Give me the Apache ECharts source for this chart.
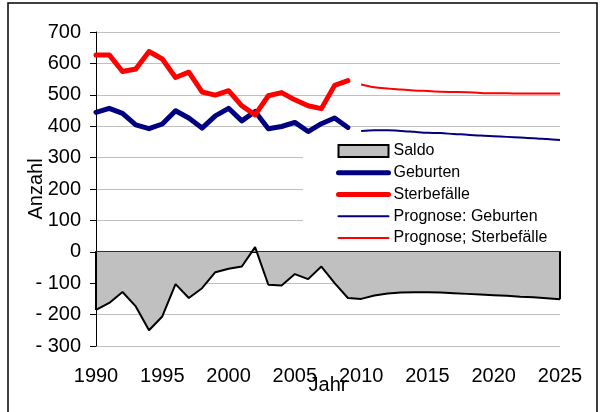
<!DOCTYPE html>
<html>
<head>
<meta charset="utf-8">
<script src="https://cdn.jsdelivr.net/npm/echarts@6/dist/echarts.min.js"></script>
<style>
  html, body { margin: 0; padding: 0; background: #fff; }
  #chart { width: 600px; height: 412px; }
</style>
</head>
<body>
<div id="chart"></div>
<script>
// Jahre (Kategorien)
var years = ['1990', '1991', '1992', '1993', '1994', '1995', '1996', '1997', '1998', '1999',
  '2000', '2001', '2002', '2003', '2004', '2005', '2006', '2007', '2008', '2009',
  '2010', '2011', '2012', '2013', '2014', '2015', '2016', '2017', '2018', '2019',
  '2020', '2021', '2022', '2023', '2024', '2025']

// Ist-Werte 1990-2009
var geburten = [444, 457, 441, 404, 392, 407, 449, 426, 394, 433, 457, 417, 447, 392, 399, 412, 383, 408, 426, 396]
var sterbefaelle = [627, 627, 574, 582, 638, 614, 555, 572, 509, 499, 513, 465, 436, 497, 507, 484, 465, 456, 530, 545]

// Prognose 2010-2025
var progGeburten = [385, 387, 387, 385, 382, 379, 378, 375, 373, 370, 368, 366, 364, 362, 359, 356]
var progSterbefaelle = [533, 524, 520, 517, 514, 512, 510, 509, 508, 506, 505, 505, 504, 504, 504, 504]

// Saldo 1990-2025
var saldo = [-185, -163, -128, -174, -250, -206, -103, -147, -116, -65, -54, -47, 15, -105, -107, -71, -87, -47, -100, -147,
  -150, -139, -133, -130, -129, -129, -130, -132, -134, -136, -138, -140, -143, -145, -148, -151]

var yTicks = { min: -300, max: 700, step: 100 }

var font = "'Liberation Sans', Arial, sans-serif"

// Ist-Reihen hinten, Prognose vorne mit null auffuellen
function padEnd(arr) {
  var out = arr.slice()
  while (out.length < years.length) out.push(null)
  return out
}
function padStart(arr) {
  var out = []
  for (var i = 0; i < years.length - arr.length; i++) out.push(null)
  return out.concat(arr)
}

var first = years[0]
var last = years[years.length - 1]

// Legendeneintrag fuer Linien: nur Strich, kein Punkt
function lineItem(name, color, width) {
  return { name: name, itemStyle: { opacity: 0 }, lineStyle: { color: color, width: width, cap: 'round' } }
}

var option = {
  animation: false,
  backgroundColor: '#fff',
  textStyle: { fontFamily: font },
  graphic: [{
    type: 'rect',
    shape: { x: 8, y: 3, width: 589, height: 430 },
    style: { fill: 'none', stroke: '#000', lineWidth: 1.5 },
    z: -1
  }],
  grid: { left: 96, right: 40, top: 32, bottom: 66 },
  legend: {
    orient: 'vertical',
    left: 303,
    top: 143,
    padding: [0, 25, 4, 33],
    backgroundColor: '#fff',
    itemWidth: 50,
    itemHeight: 12,
    itemGap: 5.75,
    textStyle: { fontFamily: font, fontSize: 16, color: '#000' },
    data: [
      { name: 'Saldo', icon: 'rect', itemStyle: { color: '#c0c0c0', borderColor: '#000', borderWidth: 2 } },
      lineItem('Geburten', '#000080', 5),
      lineItem('Sterbefälle', '#ff0000', 5),
      lineItem('Prognose: Geburten', '#000080', 2),
      lineItem('Prognose; Sterbefälle', '#ff0000', 2)
    ]
  },
  xAxis: [{
    type: 'category',
    data: years,
    boundaryGap: false,
    position: 'bottom',
    axisLine: { onZero: true, lineStyle: { color: '#000', width: 2 } },
    axisTick: { show: true, interval: 4, length: 6, lineStyle: { color: '#000', width: 1 } },
    axisLabel: { show: false },
    splitLine: { show: false }
  }, {
    type: 'category',
    data: years,
    boundaryGap: false,
    position: 'bottom',
    axisLine: { show: false, onZero: false },
    axisTick: { show: false },
    axisLabel: { interval: 4, margin: 20, fontFamily: font, fontSize: 20, color: '#000' },
    name: 'Jahr',
    nameLocation: 'middle',
    nameGap: 29,
    nameMoveOverlap: false,
    nameTextStyle: { fontFamily: font, fontSize: 20, color: '#000' }
  }],
  yAxis: {
    type: 'value',
    min: yTicks.min,
    max: yTicks.max,
    interval: yTicks.step,
    name: 'Anzahl',
    nameLocation: 'middle',
    nameRotate: 90,
    nameGap: 50,
    nameMoveOverlap: false,
    nameTextStyle: { fontFamily: font, fontSize: 20, color: '#000' },
    axisLine: { show: true, lineStyle: { color: '#000', width: 1 } },
    axisTick: { show: true, length: 6, lineStyle: { color: '#000' } },
    axisLabel: {
      margin: 15,
      fontFamily: font,
      fontSize: 20,
      color: '#000',
      formatter: function (v) { return v < 0 ? '- ' + (-v) : String(v) }
    },
    splitLine: { show: true, lineStyle: { color: '#c0c0c0', width: 1 } }
  },
  series: [
    {
      name: 'Saldo',
      type: 'line',
      data: saldo,
      symbol: 'none',
      z: 1,
      lineStyle: { color: '#000', width: 2 },
      itemStyle: { color: '#c0c0c0', borderColor: '#000' },
      areaStyle: { color: '#c0c0c0', opacity: 1 },
      markLine: {
        silent: true,
        symbol: 'none',
        label: { show: false },
        lineStyle: { color: '#000', width: 2, type: 'solid' },
        data: [
          [{ coord: [first, 0] }, { coord: [first, saldo[0]] }],
          [{ coord: [last, 0] }, { coord: [last, saldo[saldo.length - 1]] }]
        ]
      }
    },
    {
      name: 'Geburten',
      type: 'line',
      data: padEnd(geburten),
      symbol: 'none',
      lineStyle: { color: '#000080', width: 5, cap: 'round', join: 'round' },
      itemStyle: { color: '#000080' }
    },
    {
      name: 'Sterbefälle',
      type: 'line',
      data: padEnd(sterbefaelle),
      symbol: 'none',
      lineStyle: { color: '#ff0000', width: 5, cap: 'round', join: 'round' },
      itemStyle: { color: '#ff0000' }
    },
    {
      name: 'Prognose: Geburten',
      type: 'line',
      data: padStart(progGeburten),
      symbol: 'none',
      smooth: 0.3,
      lineStyle: { color: '#000080', width: 2 },
      itemStyle: { color: '#000080' }
    },
    {
      name: 'Prognose; Sterbefälle',
      type: 'line',
      data: padStart(progSterbefaelle),
      symbol: 'none',
      smooth: 0.3,
      lineStyle: { color: '#ff0000', width: 2 },
      itemStyle: { color: '#ff0000' }
    }
  ]
}

var myChart = echarts.init(document.getElementById('chart'))
myChart.setOption(option)
</script>
</body>
</html>
